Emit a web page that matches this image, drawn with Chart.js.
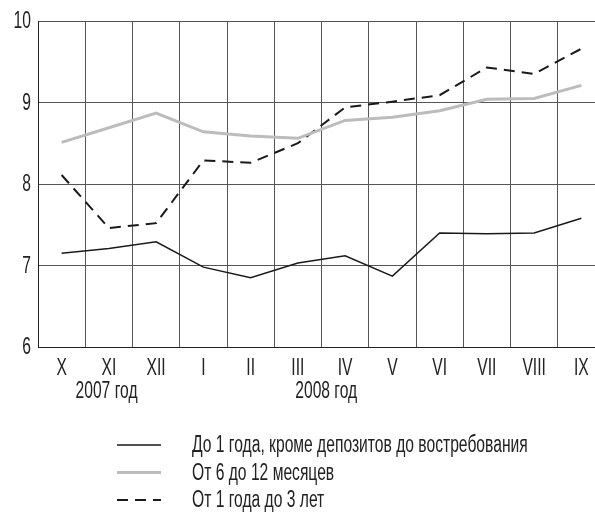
<!DOCTYPE html>
<html>
<head>
<meta charset="utf-8">
<script src="https://cdn.jsdelivr.net/npm/chart.js@4"></script>
<style>
  html, body { margin: 0; padding: 0; background: #fff; overflow: hidden; }
</style>
</head>
<body>
<canvas id="chart_1" width="615" height="512"></canvas>
<script>
const months = ['X', 'XI', 'XII', 'I', 'II', 'III', 'IV', 'V', 'VI', 'VII', 'VIII', 'IX'];
const upTo1Year = [7.15, 7.21, 7.29, 6.98, 6.85, 7.03, 7.12, 6.87, 7.40, 7.39, 7.40, 7.58];
const from6to12 = [8.51, 8.69, 8.87, 8.64, 8.59, 8.56, 8.78, 8.82, 8.90, 9.04, 9.05, 9.21];
const from1to3 = [8.11, 7.46, 7.52, 8.29, 8.26, 8.50, 8.94, 9.01, 9.09, 9.43, 9.35, 9.66];
const seriesNames = ['До 1 года, кроме депозитов до востребования', 'От 6 до 12 месяцев', 'От 1 года до 3 лет'];
const yearNames = ['2007 год', '2008 год'];
const yTicks = [6, 7, 8, 9, 10];

const FONT = '"Liberation Sans", Arial, sans-serif';
const SQUEEZE = 0.68;   // the original uses a condensed face

function narrowText(ctx, text, x, y, align) {
    ctx.save();
    ctx.translate(x, y);
    ctx.scale(SQUEEZE, 1);
    ctx.textAlign = align;
    ctx.fillText(text, 0, 0);
    ctx.restore();
}

// tick labels, year captions and the legend, all drawn narrow
const extras = {
    id: 'extras',
    afterDraw(chart) {
        const ctx = chart.ctx;
        const x = chart.scales.x;
        const y = chart.scales.y;
        const step = x.getPixelForValue(1) - x.getPixelForValue(0);
        ctx.save();
        ctx.fillStyle = '#222';
        ctx.textBaseline = 'middle';
        ctx.font = '23px ' + FONT;

        yTicks.forEach(function (v) {
            narrowText(ctx, String(v), 31, y.getPixelForValue(v) + 1, 'right');
        });
        months.forEach(function (m, i) {
            narrowText(ctx, m, x.getPixelForValue(i), 369, 'center');
        });
        narrowText(ctx, yearNames[0], x.getPixelForValue(1) - step * 0.05, 392, 'center');
        narrowText(ctx, yearNames[1], x.getPixelForValue(5) + step * 0.6, 392, 'center');

        ctx.font = '23px ' + FONT;
        chart.data.datasets.forEach(function (ds, i) {
            const ly = 445 + i * 27.5;
            ctx.beginPath();
            ctx.strokeStyle = ds.borderColor;
            ctx.lineWidth = ds.borderWidth;
            ctx.setLineDash(ds.borderDash || []);
            ctx.moveTo(117, ly);
            ctx.lineTo(161, ly);
            ctx.stroke();
            ctx.setLineDash([]);
            narrowText(ctx, ds.label, 192, ly + 1, 'left');
        });
        ctx.restore();
    }
};

new Chart(document.getElementById('chart_1'), {
    type: 'line',
    data: {
        labels: months,
        datasets: [
            {
                label: seriesNames[0],
                data: upTo1Year,
                borderColor: '#1a1a1a',
                borderWidth: 1.5,
                pointRadius: 0,
                tension: 0
            },
            {
                label: seriesNames[1],
                data: from6to12,
                borderColor: '#bcbcbc',
                borderWidth: 3,
                pointRadius: 0,
                tension: 0
            },
            {
                label: seriesNames[2],
                data: from1to3,
                borderColor: '#1a1a1a',
                borderWidth: 2,
                borderDash: [11, 7],
                pointRadius: 0,
                tension: 0
            }
        ]
    },
    options: {
        responsive: false,
        animation: false,
        layout: { padding: { top: 21, right: 10, left: 0, bottom: 0 } },
        plugins: {
            legend: { display: false },
            tooltip: { enabled: false }
        },
        scales: {
            x: {
                offset: true,
                grid: { offset: true, color: '#555', lineWidth: 1, drawTicks: false },
                border: { color: '#222', width: 1 },
                ticks: { display: false },
                afterFit: function (s) { s.height = 165; }
            },
            y: {
                min: yTicks[0],
                max: yTicks[yTicks.length - 1],
                afterBuildTicks: function (s) { s.ticks = yTicks.map(v => ({ value: v })); },
                grid: { color: '#555', lineWidth: 1, drawTicks: false },
                border: { color: '#222', width: 1 },
                ticks: { display: false },
                afterFit: function (s) { s.width = 38; }
            }
        }
    },
    plugins: [extras]
});
</script>
</body>
</html>
